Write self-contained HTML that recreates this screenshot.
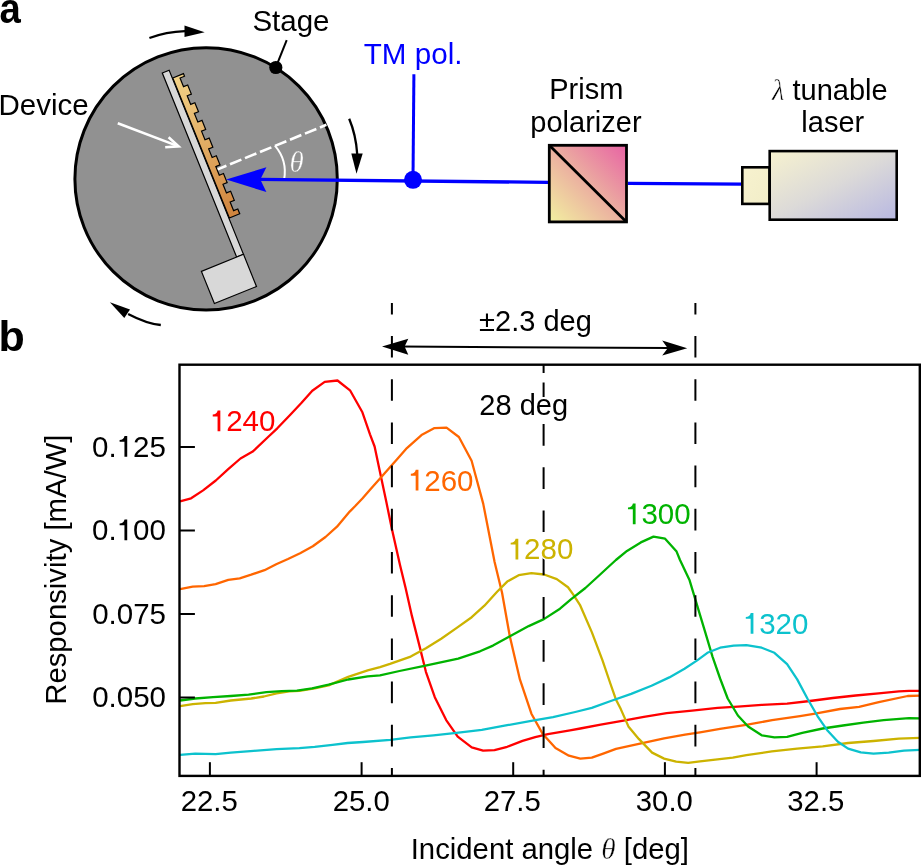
<!DOCTYPE html>
<html><head><meta charset="utf-8"><style>
html,body{margin:0;padding:0;background:#fff;}
svg{display:block;font-family:"Liberation Sans",sans-serif;will-change:transform;}
</style></head><body>
<svg width="921" height="866" viewBox="0 0 921 866">
<defs>
<linearGradient id="grat" gradientUnits="userSpaceOnUse" x1="0" y1="-190" x2="0" y2="-39"><stop offset="0" stop-color="#f2d287"/><stop offset="1" stop-color="#d0843e"/></linearGradient>
<linearGradient id="prism" x1="0" y1="1" x2="1" y2="0"><stop offset="0" stop-color="#f2f0a0"/><stop offset="0.5" stop-color="#ebaea0"/><stop offset="1" stop-color="#e862a4"/></linearGradient>
<linearGradient id="laser" x1="0" y1="0" x2="1" y2="1"><stop offset="0" stop-color="#f7f2cf"/><stop offset="0.5" stop-color="#dcdad8"/><stop offset="1" stop-color="#b8b8e2"/></linearGradient>
<linearGradient id="laser2" x1="0" y1="0" x2="1" y2="1"><stop offset="0" stop-color="#f7f2cf"/><stop offset="1" stop-color="#f2edc8"/></linearGradient>
<clipPath id="plotclip"><rect x="179.5" y="364.7" width="740.3" height="411.2"/></clipPath>
</defs>
<text transform="translate(-0.6,22.8) scale(0.89,1)" font-size="43" font-weight="bold">a</text>
<g transform="translate(0.08,0.62) scale(1.0000,1.0000)"><text x="-1.6" y="350.3" font-size="43" font-weight="bold">b</text></g>
<circle cx="206.1" cy="178.9" r="131.2" fill="#919191" stroke="#000" stroke-width="3"/>
<path d="M149.4,38 Q166,32 185,31.2" fill="none" stroke="#000" stroke-width="2.3"/>
<polygon points="184.5,25.4 204.7,32.2 184.5,36.9" fill="#000"/>
<path d="M349.2,118.7 Q356,135 357.2,154" fill="none" stroke="#000" stroke-width="2.3"/>
<polygon points="351.3,153.5 356.5,173.8 362.7,153.5" fill="#000"/>
<path d="M160.8,325 Q146.7,323.6 128.1,313.9" fill="none" stroke="#000" stroke-width="2.3"/>
<polygon points="130,309.4 109.9,302.2 124.3,318.1" fill="#000"/>
<g transform="translate(-0.62,-0.60) scale(1.0000,1.0000)"><text x="253" y="32" font-size="29.5">Stage</text></g>
<line x1="286.7" y1="40.2" x2="275.8" y2="67.3" stroke="#000" stroke-width="2"/>
<circle cx="275.8" cy="67.5" r="6.6" fill="#000"/>
<g transform="translate(-0.02,0.28) scale(1.0000,1.0000)"><text x="-1.5" y="115.2" font-size="29.5">Device</text></g>
<g transform="translate(243.5,254.3) rotate(-22)" stroke="#000" stroke-width="1.2">
<rect x="-7.4" y="-198.5" width="7.4" height="198.5" fill="#d8d8d8"/>
<rect x="-45.4" y="0" width="45.4" height="34.7" fill="#d8d8d8"/>
<polygon points="0.5,-190.0 12.0,-190.0 12.0,-187.2 7.2,-187.2 7.2,-177.9 11.7,-177.9 11.7,-168.1 7.2,-168.1 7.2,-158.8 11.7,-158.8 11.7,-149.0 7.2,-149.0 7.2,-139.7 11.7,-139.7 11.7,-129.9 7.2,-129.9 7.2,-120.6 11.7,-120.6 11.7,-110.8 7.2,-110.8 7.2,-101.5 11.7,-101.5 11.7,-91.7 7.2,-91.7 7.2,-82.4 11.7,-82.4 11.7,-72.6 7.2,-72.6 7.2,-63.3 11.7,-63.3 11.7,-53.5 7.2,-53.5 7.2,-44.2 11.7,-44.2 11.7,-39.0 0.5,-39.0" fill="url(#grat)"/>
</g>
<g stroke="#fff" stroke-width="2.6" fill="none" stroke-linecap="butt">
<line x1="117.8" y1="123.3" x2="178" y2="146.1"/>
<polyline points="168.6,137.2 178.6,146.3 165.2,147.2"/>
</g>
<line x1="217.7" y1="169.35" x2="326.4" y2="124.8" stroke="#fff" stroke-width="2.6" stroke-dasharray="12.3 3.9" stroke-dashoffset="2.9"/>
<path d="M274.9,145.6 A41,41 0 0 1 284.1,179.6" fill="none" stroke="#fff" stroke-width="2"/>
<text x="289.5" y="171.6" font-size="29" font-family="Liberation Serif" font-style="italic" fill="#fff" stroke="#919191" stroke-width="0.4">&#952;</text>
<line x1="258" y1="179.3" x2="548" y2="182.4" stroke="#0000ff" stroke-width="3.3"/>
<polygon points="226.2,179.5 266.4,167.2 260.3,179.6 266.4,192" fill="#0000ff"/>
<line x1="628" y1="183.3" x2="742" y2="184.2" stroke="#0000ff" stroke-width="3.3"/>
<line x1="413.9" y1="74.2" x2="413" y2="179.5" stroke="#0000ff" stroke-width="3"/>
<circle cx="413" cy="179.8" r="9" fill="#0000ff"/>
<g transform="translate(-0.73,-0.83) scale(1.0000,1.0000)"><text x="364.5" y="64.4" font-size="29.6" fill="#0000ff">TM pol.</text></g>
<rect x="549.3" y="145.3" width="77.2" height="76.6" fill="url(#prism)" stroke="#000" stroke-width="2.8"/>
<line x1="549.3" y1="145.3" x2="626.5" y2="221.9" stroke="#000" stroke-width="2.8"/>
<g transform="translate(-0.20,0.03) scale(1.0000,1.0000)"><text x="586.5" y="98.9" font-size="29" text-anchor="middle">Prism</text></g>
<g transform="translate(-0.53,0.05) scale(1.0000,1.0000)"><text x="586.5" y="131.8" font-size="29" text-anchor="middle">polarizer</text></g>
<rect x="742.3" y="167.3" width="27.2" height="36.6" fill="url(#laser2)" stroke="#000" stroke-width="2.6"/>
<rect x="769.7" y="151.1" width="127" height="68.6" fill="url(#laser)" stroke="#000" stroke-width="2.6"/>
<g transform="translate(0.77,0.62) scale(1.0000,1.0000)"><text x="829" y="99.3" font-size="29" text-anchor="middle"><tspan font-family="Liberation Serif" font-style="italic" stroke="#fff" stroke-width="0.5">&#955;</tspan> tunable</text></g>
<g transform="translate(-0.50,0.17) scale(1.0000,1.0000)"><text x="833.3" y="131.6" font-size="29" text-anchor="middle">laser</text></g>
<g clip-path="url(#plotclip)" fill="none" stroke-width="2.3" stroke-linejoin="round">
<polyline points="180.0,501.3 191.1,498.3 203.1,490.4 215.8,480.5 228.5,468.9 240.5,458.5 252.7,451.6 268.6,436.5 277.3,428.3 290.3,414.7 301.1,403.3 312.3,390.7 324.7,381.9 337.5,380.5 350.0,390.3 362.4,412.3 370.0,434.3 374.6,446.5 380.4,474.0 386.2,501.3 391.9,529.0 400.0,565.0 405.6,588.0 411.9,615.9 419.6,646.4 425.9,671.8 434.8,697.2 446.2,720.1 457.7,736.6 471.7,747.3 483.1,750.6 494.5,750.1 507.2,746.8 522.5,740.9 535.2,737.1 547.9,734.1 570.0,730.3 580.3,728.5 600.7,724.7 623.5,720.6 643.9,716.8 666.7,713.2 692.1,710.7 717.6,707.9 737.9,706.6 761.7,704.9 787.1,703.6 809.9,701.0 832.8,698.0 855.7,695.5 878.6,693.4 898.9,691.4 909.1,690.9 920.0,690.9" stroke="#ff0000"/>
<polyline points="180.0,589.2 192.7,586.7 204.1,586.2 215.6,584.1 228.3,579.8 239.7,578.3 251.2,574.7 264.5,570.2 276.2,564.3 288.0,559.0 300.1,553.2 312.8,546.3 325.5,537.0 337.0,526.7 349.7,511.6 355.0,506.3 362.4,498.5 370.0,489.7 380.9,477.6 397.5,458.8 406.9,448.1 421.5,435.1 434.5,428.1 446.5,427.7 458.9,437.0 471.6,460.8 483.2,503.6 494.6,562.0 502.1,593.0 509.8,636.2 519.9,679.4 531.4,713.7 542.8,734.1 555.5,748.1 568.9,755.7 580.3,758.7 591.8,757.7 603.2,753.6 616.0,748.8 640.0,743.6 664.1,738.3 685.1,734.6 700.0,732.3 720.0,728.9 746.1,724.8 772.1,720.2 800.0,716.1 815.2,713.6 840.0,709.0 859.1,706.8 878.8,702.2 907.7,696.0 920.0,695.6" stroke="#ff6600"/>
<polyline points="180.0,706.1 192.7,704.1 205.4,703.1 215.6,702.8 230.8,700.5 251.2,698.5 263.9,696.5 276.6,693.4 289.3,691.4 299.4,690.9 314.7,688.3 328.6,685.4 348.2,676.9 367.7,670.4 380.0,667.1 390.0,663.9 410.7,656.6 425.9,648.2 441.2,638.8 456.4,628.1 471.7,617.2 484.4,605.7 497.1,591.8 507.2,581.6 518.7,575.2 531.4,573.2 544.1,574.5 556.8,579.1 568.0,587.3 573.3,594.6 579.9,604.8 591.9,632.4 602.5,660.3 610.0,682.5 615.9,699.4 620.8,709.1 626.3,721.6 628.4,726.4 638.8,738.9 652.1,752.6 664.1,758.6 676.2,761.6 688.2,762.8 700.0,761.3 732.8,757.7 746.4,755.2 771.8,751.4 797.2,748.6 822.7,746.3 848.1,743.0 873.5,741.0 898.9,738.7 920.0,737.9" stroke="#ccb300"/>
<polyline points="180.0,700.5 195.2,698.5 213.0,697.2 230.8,696.0 248.6,694.7 266.4,692.1 281.7,691.1 296.9,690.6 312.1,688.3 328.6,684.7 348.2,679.5 367.7,676.3 380.0,675.3 399.5,671.0 424.3,665.8 458.2,658.6 480.0,651.3 493.0,645.6 509.5,636.5 528.7,626.1 543.9,619.1 560.0,608.7 571.2,599.1 585.4,588.0 600.7,574.0 615.9,560.0 627.0,550.9 640.8,542.4 653.5,536.6 665.1,538.7 676.6,551.6 680.0,560.0 689.6,580.3 697.2,605.7 704.9,631.2 712.5,656.6 720.1,678.5 727.7,698.5 737.9,715.5 748.1,726.5 761.7,735.3 774.4,737.4 787.1,736.9 802.3,732.8 822.7,728.5 843.0,725.5 863.3,722.7 883.6,720.2 909.1,718.2 920.0,718.3" stroke="#00b300"/>
<polyline points="180.0,754.9 195.2,753.6 215.6,754.2 230.8,752.6 253.7,750.9 276.6,749.1 299.4,748.1 314.7,746.8 332.5,744.8 347.7,743.0 363.0,742.0 390.3,739.9 410.7,737.4 433.5,735.3 456.4,732.8 481.8,729.8 507.2,725.2 532.6,720.6 553.0,717.1 575.2,712.0 591.8,707.9 610.8,701.0 631.2,693.9 651.5,685.8 669.3,677.4 684.5,668.8 697.2,660.4 707.4,652.8 720.1,647.7 733.7,645.6 746.4,645.1 761.7,647.7 774.4,652.8 787.1,664.2 797.2,679.4 807.4,698.5 817.6,716.3 827.7,730.8 837.9,741.7 848.1,748.6 860.8,752.4 873.5,753.6 888.7,752.6 904.0,750.6 920.0,749.8" stroke="#0cc2cd"/>
</g>
<line x1="391.9" y1="302.9" x2="391.9" y2="776" stroke="#000" stroke-width="2" stroke-dasharray="21.6 21.6" stroke-dashoffset="10.1"/>
<line x1="695.4" y1="302.9" x2="695.4" y2="776" stroke="#000" stroke-width="2" stroke-dasharray="21.6 21.6" stroke-dashoffset="10.1"/>
<line x1="543.6" y1="424.1" x2="543.6" y2="776" stroke="#000" stroke-width="2" stroke-dasharray="21.6 21.6"/>
<line x1="543.6" y1="364" x2="543.6" y2="373" stroke="#000" stroke-width="2"/>
<line x1="543.6" y1="382.5" x2="543.6" y2="397" stroke="#000" stroke-width="2"/>
<line x1="400" y1="346.6" x2="670" y2="348.1" stroke="#000" stroke-width="2"/>
<polygon points="382,346.5 408.3,338.8 404.6,346.6 408.3,354.7" fill="#000"/>
<polygon points="687.2,348.2 662.2,340.4 667.7,348.2 662.2,355.6" fill="#000"/>
<g transform="translate(0.45,0.20) scale(1.0000,1.0000)"><text x="535" y="331.1" font-size="29" text-anchor="middle">&#177;2.3 deg</text></g>
<g transform="translate(0.20,0.55) scale(1.0000,1.0000)"><text x="523.5" y="414.9" font-size="29" text-anchor="middle">28 deg</text></g>
<rect x="179.5" y="364.7" width="740.3" height="411.2" fill="none" stroke="#000" stroke-width="2.4"/>
<line x1="209.9" y1="775.9" x2="209.9" y2="762.2" stroke="#000" stroke-width="2"/>
<g transform="translate(-0.65,-0.38) scale(1.0000,1.0000)"><text x="209.9" y="811.2" font-size="29.3" text-anchor="middle">22.5</text></g>
<line x1="361.6" y1="775.9" x2="361.6" y2="762.2" stroke="#000" stroke-width="2"/>
<g transform="translate(-0.40,-0.38) scale(1.0000,1.0000)"><text x="361.6" y="811.2" font-size="29.3" text-anchor="middle">25.0</text></g>
<line x1="513.2" y1="775.9" x2="513.2" y2="762.2" stroke="#000" stroke-width="2"/>
<g transform="translate(-0.92,-0.38) scale(1.0000,1.0000)"><text x="513.2" y="811.2" font-size="29.3" text-anchor="middle">27.5</text></g>
<line x1="664.9" y1="775.9" x2="664.9" y2="762.2" stroke="#000" stroke-width="2"/>
<g transform="translate(-0.58,-0.38) scale(1.0000,1.0000)"><text x="664.9" y="811.2" font-size="29.3" text-anchor="middle">30.0</text></g>
<line x1="816.6" y1="775.9" x2="816.6" y2="762.2" stroke="#000" stroke-width="2"/>
<g transform="translate(-0.77,-0.38) scale(1.0000,1.0000)"><text x="816.6" y="811.2" font-size="29.3" text-anchor="middle">32.5</text></g>
<line x1="179.5" y1="447.0" x2="194.9" y2="447.0" stroke="#000" stroke-width="2"/>
<g transform="translate(-0.65,-0.55) scale(1.0000,1.0000)"><text x="166.5" y="457.3" font-size="29.5" text-anchor="end">0.&#8199;25</text><path d="M359,0 L265,0 L265,505 L101,505 L101,566 C185,568 252,606 268,703 L359,703 Z" transform="translate(117.28,457.30) scale(0.02950,-0.02950)" fill="#000"/></g>
<line x1="179.5" y1="530.5" x2="194.9" y2="530.5" stroke="#000" stroke-width="2"/>
<g transform="translate(-0.65,-0.55) scale(1.0000,1.0000)"><text x="166.5" y="540.8" font-size="29.5" text-anchor="end">0.&#8199;00</text><path d="M359,0 L265,0 L265,505 L101,505 L101,566 C185,568 252,606 268,703 L359,703 Z" transform="translate(117.28,540.80) scale(0.02950,-0.02950)" fill="#000"/></g>
<line x1="179.5" y1="614.0" x2="194.9" y2="614.0" stroke="#000" stroke-width="2"/>
<g transform="translate(-0.50,-0.30) scale(1.0000,1.0000)"><text x="166.5" y="624.3" font-size="29.5" text-anchor="end">0.075</text></g>
<line x1="179.5" y1="697.5" x2="194.9" y2="697.5" stroke="#000" stroke-width="2"/>
<g transform="translate(-0.50,-0.40) scale(1.0000,1.0000)"><text x="166.5" y="707.8" font-size="29.5" text-anchor="end">0.050</text></g>
<g transform="translate(-0.75,-0.20) scale(1.0000,1.0000)"><text x="210.5" y="431.5" font-size="29.5" stroke="#fff" stroke-width="2.6" paint-order="stroke" fill="#ff0000">&#8199;240</text><path d="M359,0 L265,0 L265,505 L101,505 L101,566 C185,568 252,606 268,703 L359,703 Z" transform="translate(210.50,431.50) scale(0.02950,-0.02950)" fill="#ff0000" stroke="#fff" stroke-width="88.1" paint-order="stroke" stroke-linejoin="round"/></g>
<g transform="translate(-1.15,0.25) scale(1.0000,1.0000)"><text x="409" y="490.3" font-size="29.5" stroke="#fff" stroke-width="2.6" paint-order="stroke" fill="#ff6600">&#8199;260</text><path d="M359,0 L265,0 L265,505 L101,505 L101,566 C185,568 252,606 268,703 L359,703 Z" transform="translate(409.00,490.30) scale(0.02950,-0.02950)" fill="#ff6600" stroke="#fff" stroke-width="88.1" paint-order="stroke" stroke-linejoin="round"/></g>
<g transform="translate(-1.00,0.20) scale(1.0000,1.0000)"><text x="508.7" y="559.3" font-size="29.5" stroke="#fff" stroke-width="2.6" paint-order="stroke" fill="#ccb300">&#8199;280</text><path d="M359,0 L265,0 L265,505 L101,505 L101,566 C185,568 252,606 268,703 L359,703 Z" transform="translate(508.70,559.30) scale(0.02950,-0.02950)" fill="#ccb300" stroke="#fff" stroke-width="88.1" paint-order="stroke" stroke-linejoin="round"/></g>
<g transform="translate(-0.80,-0.05) scale(1.0000,1.0000)"><text x="625.8" y="524.3" font-size="29.5" stroke="#fff" stroke-width="2.6" paint-order="stroke" fill="#00b300">&#8199;300</text><path d="M359,0 L265,0 L265,505 L101,505 L101,566 C185,568 252,606 268,703 L359,703 Z" transform="translate(625.80,524.30) scale(0.02950,-0.02950)" fill="#00b300" stroke="#fff" stroke-width="88.1" paint-order="stroke" stroke-linejoin="round"/></g>
<g transform="translate(-0.58,0.05) scale(1.0000,1.0000)"><text x="743.4" y="633.7" font-size="29.5" stroke="#fff" stroke-width="2.6" paint-order="stroke" fill="#0cc2cd">&#8199;320</text><path d="M359,0 L265,0 L265,505 L101,505 L101,566 C185,568 252,606 268,703 L359,703 Z" transform="translate(743.40,633.70) scale(0.02950,-0.02950)" fill="#0cc2cd" stroke="#fff" stroke-width="88.1" paint-order="stroke" stroke-linejoin="round"/></g>
<g transform="translate(-0.30,0.27) scale(1.0000,1.0000)"><text x="411" y="858.9" font-size="29.3">Incident angle <tspan font-family="Liberation Serif" font-style="italic" stroke="#fff" stroke-width="0.4">&#952;</tspan> [deg]</text></g>
<g transform="translate(0.08,0.67) scale(1.0000,1.0000)"><text transform="translate(66,704.1) rotate(-90)" x="0" y="0" font-size="29.3">Responsivity [mA/W]</text></g>
</svg>
</body></html>
